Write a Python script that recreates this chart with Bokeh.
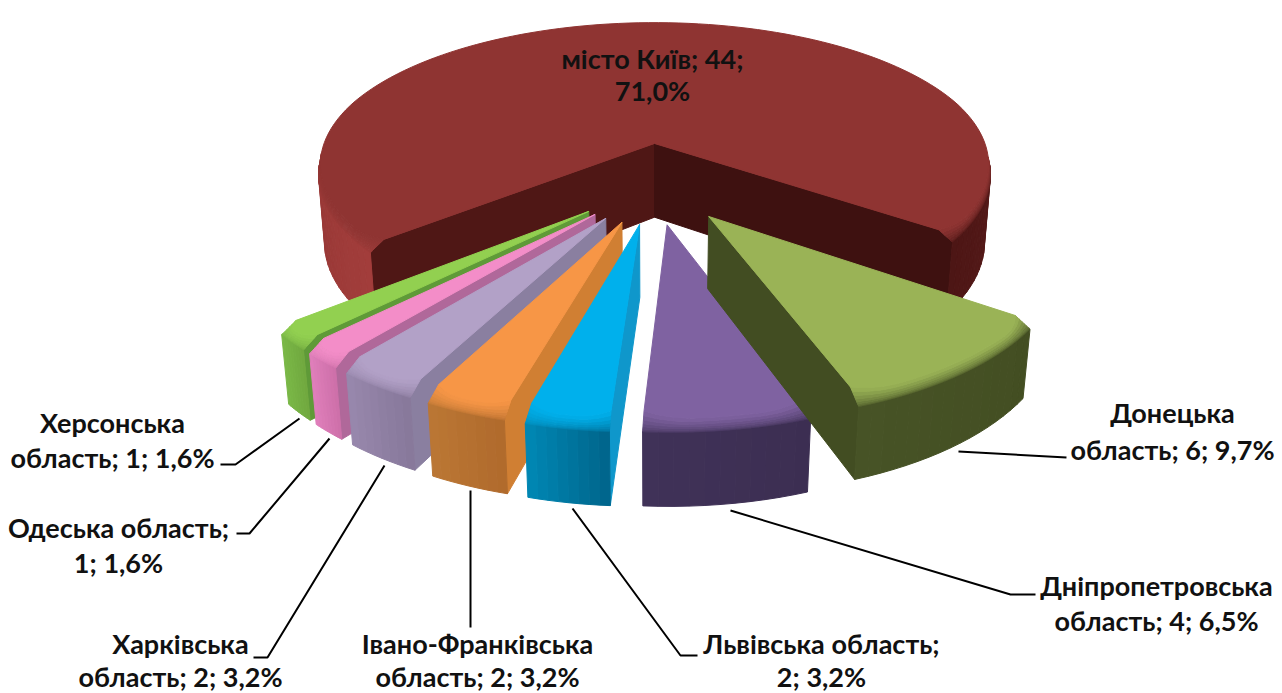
import math
from bokeh.plotting import figure, ColumnDataSource
from bokeh.embed import file_html
from bokeh.resources import INLINE
from bokeh.core.properties import value

regions = ["місто Київ", "Донецька область", "Дніпропетровська область", "Львівська область",
           "Івано-Франківська область", "Харківська область", "Одеська область", "Херсонська область"]
counts = [44, 6, 4, 2, 2, 2, 1, 1]
label_lines = [["місто Київ; 44;", "71,0%"], ["Донецька", "область; 6; 9,7%"],
               ["Дніпропетровська", "область; 4; 6,5%"], ["Львівська область;", "2; 3,2%"],
               ["Івано-Франківська", "область; 2; 3,2%"], ["Харківська", "область; 2; 3,2%"],
               ["Одеська область;", "1; 1,6%"], ["Херсонська", "область; 1; 1,6%"]]
label_xy = [(652, 58, 90), (1172, 412, 449), (1156, 585, 620), (821, 643, 676),
            (477, 643, 676), (180, 643, 676), (118, 527, 562), (112, 422, 457)]
leaders = [None,
           [(958, 451), (1066, 457)],
           [(730, 510), (1010, 594), (1035, 594)],
           [(572, 508), (680, 655), (697, 655)],
           [(470, 490), (470, 627)],
           [(384, 465), (267, 657), (253, 657)],
           [(329, 438), (249, 533), (236, 533)],
           [(299, 418), (235, 464), (220, 464)]]
# top, radial face at slice start, radial face at slice end, wall at start (clockwise), wall at end
styles = [("#8f3432", "#4f1715", "#3e1110", "#a23d3b", "#4d1615"),
          ("#9ab356", "#424d22", "#424d22", "#434e22", "#475326"),
          ("#7f62a1", "#5b4678", "#5b4678", "#3c2e52", "#403258"),
          ("#00b0ec", "#0f97cb", "#0f97cb", "#00648a", "#0088b5"),
          ("#f79646", "#d07f33", "#d07f33", "#b06a2c", "#bb7734"),
          ("#b2a1c7", "#8a7fa0", "#8a7fa0", "#87789a", "#9888ad"),
          ("#f38dc8", "#b0689a", "#b0689a", "#cd6fa9", "#e07fbb"),
          ("#92d050", "#5f9a38", "#5f9a38", "#70a83f", "#7ab846")]

CX, CY, S, SE, CE, D = 654.0, 143.0, 332.0, 0.424, 0.905, 5.5
EX, EY0, EY1, T0, T1, START = 0.25, 0.27, 0.26, 0.25, 0.23, 219.9
R1, BZ, INSET, CORNER, LEVELS = 0.97, 0.025, 0.02, 0.03, 8


def proj(x, y, z):
    f = D / (D + y * CE - z * SE)
    return CX + S * x * f, CY - S * (y * SE + z * CE) * f


def hex2(c):
    return [int(c[i:i + 2], 16) for i in (1, 3, 5)]


def mix(a, b, u):
    A, B = hex2(a), hex2(b)
    return "#%02x%02x%02x" % tuple(int(round(A[i] + (B[i] - A[i]) * u)) for i in range(3))


def area(pts):
    return sum(pts[i][0] * pts[(i + 1) % len(pts)][1] - pts[(i + 1) % len(pts)][0] * pts[i][1]
               for i in range(len(pts)))


total = sum(counts)
bounds = []
a = START
for cnt in counts:
    bounds.append((a, a - 360.0 * cnt / total))
    a -= 360.0 * cnt / total

xs, ys, fills = [], [], []


def add(pts, col):
    xs.append([p[0] for p in pts])
    ys.append([p[1] for p in pts])
    fills.append(col)


def draw_slice(i):
    a0, a1 = bounds[i]
    span = a0 - a1
    mid = math.radians((a0 + a1) / 2)
    ox = 0 if i == 0 else EX * math.cos(mid)
    oy = 0 if i == 0 else -(EY0 + EY1 * abs(math.sin(mid)))
    t = T0 if i == 0 else T1
    R = 1.0 if i == 0 else R1
    top, side0, side1, w0, w1 = styles[i]
    nseg = max(8, int(span / 2))
    thetas = [a0 - span * k / nseg for k in range(nseg + 1)]
    delta = min(0.12, math.radians(span) / 2.5)

    def pt(th, lvl):
        r = math.radians(th)
        w = (1 - lvl / LEVELS) ** 2
        d = min(a0 - th, th - a1) * math.pi / 180
        g = max(0.0, 1 - d / delta) ** 2
        front = min(1.0, max(0.0, (0.3 - math.sin(r)) / 1.3))
        rr = R * (1 - INSET * front * w - CORNER * g * w)
        return proj(ox + rr * math.cos(r), oy + rr * math.sin(r), -BZ * (1 - w))

    def low(th, z):
        r = math.radians(th)
        return proj(ox + R * math.cos(r), oy + R * math.sin(r), z)

    apex_t, apex_b = proj(ox, oy, 0), proj(ox, oy, -t)
    f0 = [apex_t, pt(a0, 0), low(a0, -BZ), low(a0, -t), apex_b]
    f1 = [apex_t, pt(a1, 0), low(a1, -BZ), low(a1, -t), apex_b]
    if area(f0) < 0:
        add(f0, side0)
    if area(f1) > 0:
        add(f1, side1)
    for k in range(nseg):
        th0, th1 = thetas[k], thetas[k + 1]
        q = [low(th0, -BZ), low(th1, -BZ), low(th1, -t), low(th0, -t)]
        if area(q) < 0:
            add(q, mix(w0, w1, (k + 0.5) / nseg))
    for lvl in range(LEVELS - 1, -1, -1):
        for k in range(nseg):
            th0, th1 = thetas[k], thetas[k + 1]
            wall = mix(w0, w1, (k + 0.5) / nseg)
            q = [pt(th0, lvl), pt(th1, lvl), pt(th1, lvl + 1), pt(th0, lvl + 1)]
            if area(q) < 0:
                add(q, mix(top, wall, (lvl + 0.5) / LEVELS))
    add([apex_t] + [pt(th, 0) for th in thetas], top)


for i in [0, 7, 6, 5, 4, 3, 2, 1]:
    draw_slice(i)

p = figure(width=1282, height=693, x_range=(0, 1282), y_range=(693, 0),
           output_backend="svg", toolbar_location=None, min_border=0)
p.axis.visible = False
p.grid.visible = False
p.outline_line_color = None
p.background_fill_color = "white"

lx = [[q[0] for q in l] for l in leaders if l]
ly = [[q[1] for q in l] for l in leaders if l]
p.multi_line(lx, ly, line_color="#000000", line_width=2)
src = ColumnDataSource(dict(xs=xs, ys=ys, fill=fills))
p.patches("xs", "ys", source=src, fill_color="fill", line_color="fill", line_width=1)

tx, ty, tt = [], [], []
for lines, (x, y1, y2) in zip(label_lines, label_xy):
    tx += [x, x]
    ty += [y1, y2]
    tt += lines
p.text(tx, ty, text=tt, text_align="center", text_baseline="middle",
       text_font=value("Lato"), text_font_size="27px", text_font_style="bold", text_color="#111111")

open("out.html", "w").write(file_html(p, INLINE))
